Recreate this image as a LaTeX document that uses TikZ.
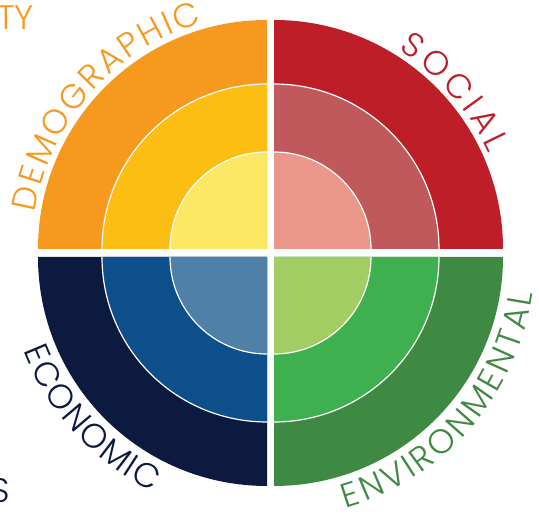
\documentclass[tikz,border=0pt]{standalone}
\usepackage{fontspec}
\setmainfont{Poppins Light}
\usetikzlibrary{decorations.text}

\definecolor{demoOuter}{HTML}{F7991F}
\definecolor{demoMid}{HTML}{FDBE14}
\definecolor{demoInner}{HTML}{FDE863}
\definecolor{socOuter}{HTML}{BE1E28}
\definecolor{socMid}{HTML}{C0595C}
\definecolor{socInner}{HTML}{EC978B}
\definecolor{ecoOuter}{HTML}{0B1A3E}
\definecolor{ecoMid}{HTML}{0C4F8A}
\definecolor{ecoInner}{HTML}{4F81A8}
\definecolor{envOuter}{HTML}{3F8A42}
\definecolor{envMid}{HTML}{3FB04F}
\definecolor{envInner}{HTML}{A2CD63}

\tikzset{
  ringline/.style={white, line width=1.2pt},
  arclabel/.style={decorate, decoration={text along path, text align={fit to path}, text={#1}}}
}

\begin{document}
\begin{tikzpicture}[x=1pt,y=1pt]
    \useasboundingbox (0,0) rectangle (539,514);
    % quadrants: corner, start angle, outer/mid/inner colours
    \foreach \cx/\cy/\a/\co/\cm/\ci in {267/265/90/demoOuter/demoMid/demoInner,
                                        274/265/0/socOuter/socMid/socInner,
                                        267/257/180/ecoOuter/ecoMid/ecoInner,
                                        274/257/270/envOuter/envMid/envInner}{
        \fill[\co] (\cx,\cy) -- ++(\a:229) arc[start angle=\a, delta angle=90, radius=229] -- cycle;
        \fill[\cm] (\cx,\cy) -- ++(\a:165) arc[start angle=\a, delta angle=90, radius=165] -- cycle;
        \fill[\ci] (\cx,\cy) -- ++(\a:97) arc[start angle=\a, delta angle=90, radius=97] -- cycle;
        \draw[ringline] (\cx,\cy) ++(\a:165) arc[start angle=\a, delta angle=90, radius=165];
        \draw[ringline] (\cx,\cy) ++(\a:97) arc[start angle=\a, delta angle=90, radius=97];
    }
    % labels round the rim
    \path[arclabel={|\fontsize{34}{34}\selectfont\color{demoOuter}|DEMOGRAPHIC}]
        (267,265) ++(171:235) arc[start angle=171, end angle=106, radius=235];
    \path[arclabel={|\fontsize{34}{34}\selectfont\color{socOuter}|SOCIAL}]
        (274,265) ++(58:235) arc[start angle=58, end angle=24, radius=235];
    \path[arclabel={|\fontsize{34}{34}\selectfont\color{ecoOuter}|ECONOMIC}]
        (267,257) ++(201:261) arc[start angle=201, end angle=244, radius=261];
    \path[arclabel={|\fontsize{34}{34}\selectfont\color{envOuter}|ENVIRONMENTAL}]
        (274,257) ++(-74:261) arc[start angle=-74, end angle=-8, radius=261];
    % cut-off words at the left edge
    \node[anchor=base west, inner sep=0pt, text=demoOuter, font=\fontsize{34}{34}\selectfont] (ty) at (-3,484) {TY};
    \node[anchor=base, inner sep=0pt, text=ecoOuter, font=\fontsize{34}{34}\selectfont] (s) at (0,11) {S};
\end{tikzpicture}
\end{document}
